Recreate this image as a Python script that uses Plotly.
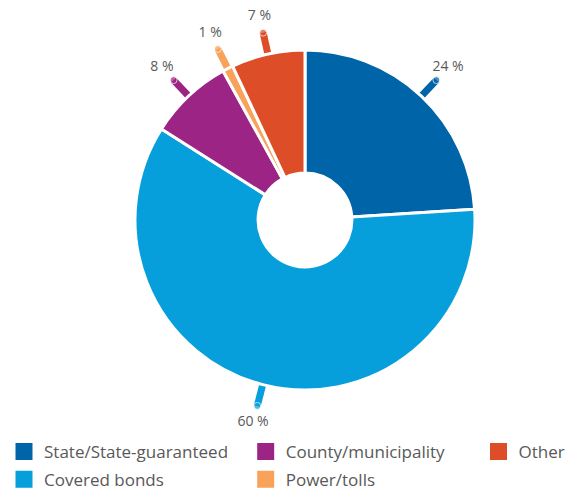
import numpy as np
import plotly.graph_objects as go

# Portfolio breakdown by issuer type
categories = ["State/State-guaranteed", "Covered bonds", "County/municipality",
              "Power/tolls", "Other"]
shares = [24, 60, 8, 1, 7]
slice_colors = ["#0064a8", "#079fdb", "#9c2484", "#f9a25a", "#dd4e28"]
value_labels = [f"{v} %" for v in shares]

# legend columns (left to right)
legend_columns = [
    ["State/State-guaranteed", "Covered bonds"],
    ["County/municipality", "Power/tolls"],
    ["Other"],
]

# page geometry (pixels)
W, H = 578, 491
CX, CY, R = 305, 220, 170
HOLE = 0.276
R_LINE_IN, R_LINE_OUT, R_TEXT = 166, 192, 209
TEXT_GREY = "#595959"
FONT = "Open Sans"

fig = go.Figure()

# donut
fig.add_trace(go.Pie(
    labels=categories,
    values=shares,
    sort=False,
    direction="clockwise",
    rotation=0,
    hole=HOLE,
    marker=dict(colors=slice_colors, line=dict(color="white", width=3)),
    textinfo="none",
    hoverinfo="label+value",
    showlegend=False,
    domain=dict(x=[(CX - R) / W, (CX + R) / W],
                y=[1 - (CY + R) / H, 1 - (CY - R) / H]),
))

# leader lines and value labels, placed at each slice's mid angle
total = float(sum(shares))
ends = np.cumsum(shares)
mid_deg = (ends - np.array(shares) / 2.0) / total * 360.0
theta = np.radians(mid_deg)
ux, uy = np.sin(theta), -np.cos(theta)

for i, name in enumerate(categories):
    fig.add_trace(go.Scatter(
        x=[CX + R_LINE_IN * ux[i], CX + R_LINE_OUT * ux[i]],
        y=[CY + R_LINE_IN * uy[i], CY + R_LINE_OUT * uy[i]],
        mode="lines+markers",
        line=dict(color=slice_colors[i], width=7),
        marker=dict(size=[0, 7], color=slice_colors[i]),
        hoverinfo="skip",
        showlegend=False,
    ))

fig.add_trace(go.Scatter(
    x=CX + R_TEXT * ux,
    y=CY + R_TEXT * uy,
    mode="text",
    text=value_labels,
    textposition="middle center",
    textfont=dict(family=FONT, size=14, color=TEXT_GREY),
    hoverinfo="skip",
    showlegend=False,
))

# legend entries, one legend per column
legend_names = ["legend", "legend2", "legend3"]
for col, names in enumerate(legend_columns):
    for name in names:
        c = slice_colors[categories.index(name)]
        fig.add_trace(go.Scatter(
            x=[None], y=[None],
            mode="markers",
            name=name,
            legend=legend_names[col],
            legendgroup=name,
            marker=dict(symbol="square", size=15, color=c,
                        line=dict(color=c, width=2)),
        ))

legend_style = dict(
    orientation="v",
    yanchor="top",
    y=1 - 434 / H,
    xanchor="left",
    font=dict(family=FONT, size=17, color=TEXT_GREY),
    bgcolor="rgba(0,0,0,0)",
    borderwidth=0,
    tracegroupgap=2.6,
    itemsizing="trace",
)

fig.update_layout(
    width=W,
    height=H,
    margin=dict(l=0, r=0, t=0, b=0, autoexpand=False),
    paper_bgcolor="white",
    plot_bgcolor="rgba(0,0,0,0)",
    xaxis=dict(range=[0, W], visible=False, fixedrange=True),
    yaxis=dict(range=[H, 0], visible=False, fixedrange=True),
    legend=dict(legend_style, x=4 / W),
    legend2=dict(legend_style, x=245.7 / W),
    legend3=dict(legend_style, x=478.5 / W),
    showlegend=True,
)

fig.write_html("out.html")
